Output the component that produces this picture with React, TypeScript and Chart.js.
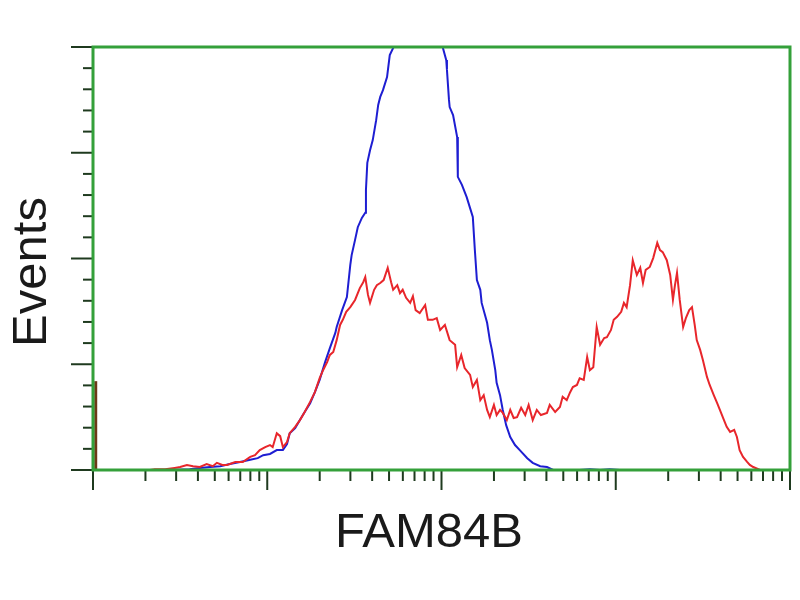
import { useEffect, useRef } from "react";
import { Chart, registerables } from "chart.js";

Chart.register(...registerables);

// Histogram channels (1024 channels over 4 log decades) and event counts (% of scale)
const blueChannels = [84,113,142,157,172,187,201,216,231,242,250,260,270,279,285,289,297,304,311,319,326,333,341,348,356,358,366,373,378,380,385,389,395,400,401,403,407,411,416,419,422,426,432,436,441,448,458,473,488,502,514,519,520,523,524,529,535,536,542,549,554,558,561,564,569,571,576,579,583,586,591,593,598,602,607,613,620,627,638,646,657,667,676,686,715,730,745,759,774,804,833,892];
const blueCounts = [0,0,0.2,0.5,0.7,0.9,1.4,1.9,2.4,2.8,3.5,3.8,4.7,4.7,6.1,8.7,9.9,11.8,13.7,15.8,18.4,21.3,25.5,28.8,32.4,33.8,37.8,40.9,48.5,50.8,54.4,57.4,59.6,60.8,66.2,72.6,75.6,78.0,82.7,86.3,88.2,89.8,92.9,98.1,99.8,105,112,115,114,108,99.8,96.9,94.6,87.5,85.8,83.9,78.7,69.3,67.4,64.5,61.9,59.8,52.0,44.9,42.6,39.5,36.6,34.8,30.7,28.4,23.6,20.6,17.7,14.2,10.6,7.8,5.9,4.7,2.8,1.7,0.9,0.7,0,0,0,0.2,0,0.2,0,0,0,0];

const redChannels = [84,91,106,120,128,138,147,157,167,176,182,190,197,209,220,231,238,245,253,260,264,270,275,279,285,289,297,304,311,319,326,333,338,344,348,353,358,363,367,372,378,385,392,397,400,404,407,413,417,422,427,433,438,441,447,451,455,460,466,470,474,480,488,492,499,505,510,517,524,532,535,541,546,554,558,564,569,574,579,583,589,593,598,602,608,613,618,623,629,635,640,646,652,658,667,671,679,686,690,696,701,705,711,715,721,726,730,735,740,745,751,755,761,765,770,776,780,784,789,793,799,804,808,812,818,823,829,833,837,843,848,852,855,858,862,867,871,876,880,884,887,892,896,902,906,912,917,921,927,931,936,942,946,950,955,961,965,970,980,1002];
const redCounts = [0,0.2,0.2,0.5,0.7,1.2,0.9,0.7,1.4,0.9,1.7,1.2,1.2,1.9,1.9,3.1,3.5,4.7,5.4,5.9,5.4,8.7,8.0,5.4,6.6,8.7,10.2,11.8,13.7,16.1,18.4,21.7,23.6,25.5,27.2,27.9,30.7,34.3,35.5,37.4,38.5,40.2,43.0,44.4,45.6,41.4,39.5,42.6,43.7,44.2,44.9,47.8,44.4,42.6,43.7,41.8,42.6,40.7,39.5,41.1,37.8,37.1,39.0,35.5,35.5,35.9,33.1,34.3,30.7,29.6,24.3,27.2,24.1,22.5,19.6,21.3,16.5,17.7,14.2,12.5,15.4,13.0,14.2,13.5,11.8,14.2,12.3,12.5,14.7,13.0,15.4,11.8,14.2,13.0,13.5,15.4,13.7,14.9,17.3,16.5,18.4,19.6,20.1,21.7,21.3,26.7,23.6,24.3,33.8,29.6,31.2,31.4,33.1,35.5,36.2,37.4,39.5,38.5,43.7,49.6,46.1,47.8,44.2,47.3,48.0,50.1,53.7,52.0,51.5,49.6,46.1,40.2,43.7,46.6,40.2,33.8,35.9,37.8,38.5,34.3,30.7,28.4,26.0,22.0,20.1,17.7,15.8,14.2,11.8,10.2,9.0,9.5,7.8,4.7,3.1,1.9,1.2,0.7,0,0];

// Off-scale pile-up in the first channel
const spikeChannels = [4, 4];
const spikeCounts = [0, 21];

// Axis ticks
const decades = [0, 1, 2, 3, 4];
const minorMultipliers = [2, 3, 4, 5, 6, 7, 8, 9];
const channelsPerDecade = 256;
const yMax = 100;
const yMinorStep = 5;
const yMajorStep = 25;
const xTitle = "FAM84B";
const yTitle = "Events";

const FONT = "'Liberation Sans', Arial, Helvetica, sans-serif";
const GREEN = "#34a03a";
const TICK = "#1f3a1f";
const TEXT = "#1a1a1a";

const zip = (xs: number[], ys: number[]) => xs.map((x, i) => ({ x, y: ys[i] }));

const framePlugin = {
  id: "frame",
  afterDatasetsDraw(chart: any) {
    const { ctx, chartArea: a, scales } = chart;
    const x = scales.x;
    const y = scales.y;
    const seg = (x1: number, y1: number, x2: number, y2: number) => {
      ctx.beginPath();
      ctx.moveTo(x1, y1);
      ctx.lineTo(x2, y2);
      ctx.stroke();
    };
    ctx.save();
    ctx.strokeStyle = TICK;
    ctx.lineWidth = 2;
    decades.forEach((d) => {
      const p = x.getPixelForValue(channelsPerDecade * d);
      seg(p, a.bottom, p, a.bottom + 20);
      if (d < decades[decades.length - 1]) {
        minorMultipliers.forEach((m) => {
          const q = x.getPixelForValue(channelsPerDecade * (d + Math.log10(m)));
          seg(q, a.bottom, q, a.bottom + 11);
        });
      }
    });
    for (let v = 0; v <= yMax; v += yMinorStep) {
      const p = y.getPixelForValue(v);
      const len = v % yMajorStep === 0 ? 22 : 10;
      seg(a.left - len, p, a.left, p);
    }
    ctx.strokeStyle = GREEN;
    ctx.lineWidth = 3;
    ctx.strokeRect(a.left, a.top, a.right - a.left, a.bottom - a.top);

    // Axis titles
    ctx.fillStyle = TEXT;
    ctx.font = `49px ${FONT}`;
    ctx.textAlign = "center";
    ctx.textBaseline = "alphabetic";
    ctx.fillText(xTitle, a.left + 336, a.bottom + 77);
    ctx.translate(a.left - 47, a.top + 225);
    ctx.rotate(-Math.PI / 2);
    ctx.fillText(yTitle, 0, 0);
    ctx.restore();
  },
};

export default function App() {
  const ref = useRef<HTMLCanvasElement | null>(null);

  useEffect(() => {
    if (!ref.current) return;
    const chart = new Chart(ref.current, {
      type: "line",
      data: {
        datasets: [
          {
            label: "FAM84B",
            data: zip(redChannels, redCounts),
            borderColor: "#e8262b",
            borderWidth: 2,
            pointRadius: 0,
            tension: 0,
          },
          {
            label: "Control",
            data: zip(blueChannels, blueCounts),
            borderColor: "#1e1ed2",
            borderWidth: 2,
            pointRadius: 0,
            tension: 0,
          },
          {
            label: "Pile-up",
            data: zip(spikeChannels, spikeCounts),
            borderColor: "#6b3a16",
            borderWidth: 3,
            pointRadius: 0,
          },
        ],
      },
      options: {
        responsive: false,
        maintainAspectRatio: false,
        animation: false,
        layout: { padding: { left: 93, right: 10, top: 47, bottom: 130 } },
        plugins: { legend: { display: false }, tooltip: { enabled: false } },
        scales: {
          x: {
            type: "linear",
            display: false,
            min: 0,
            max: channelsPerDecade * 4,
            title: { display: false, text: xTitle },
          },
          y: {
            type: "linear",
            display: false,
            min: 0,
            max: yMax,
            title: { display: false, text: yTitle },
          },
        },
      },
      plugins: [framePlugin],
    });
    return () => chart.destroy();
  }, []);

  return (
    <div style={{ position: "absolute", left: 0, top: 0, width: 800, height: 600, background: "#fff" }}>
      <canvas ref={ref} width={800} height={600} style={{ width: 800, height: 600 }} />
    </div>
  );
}
